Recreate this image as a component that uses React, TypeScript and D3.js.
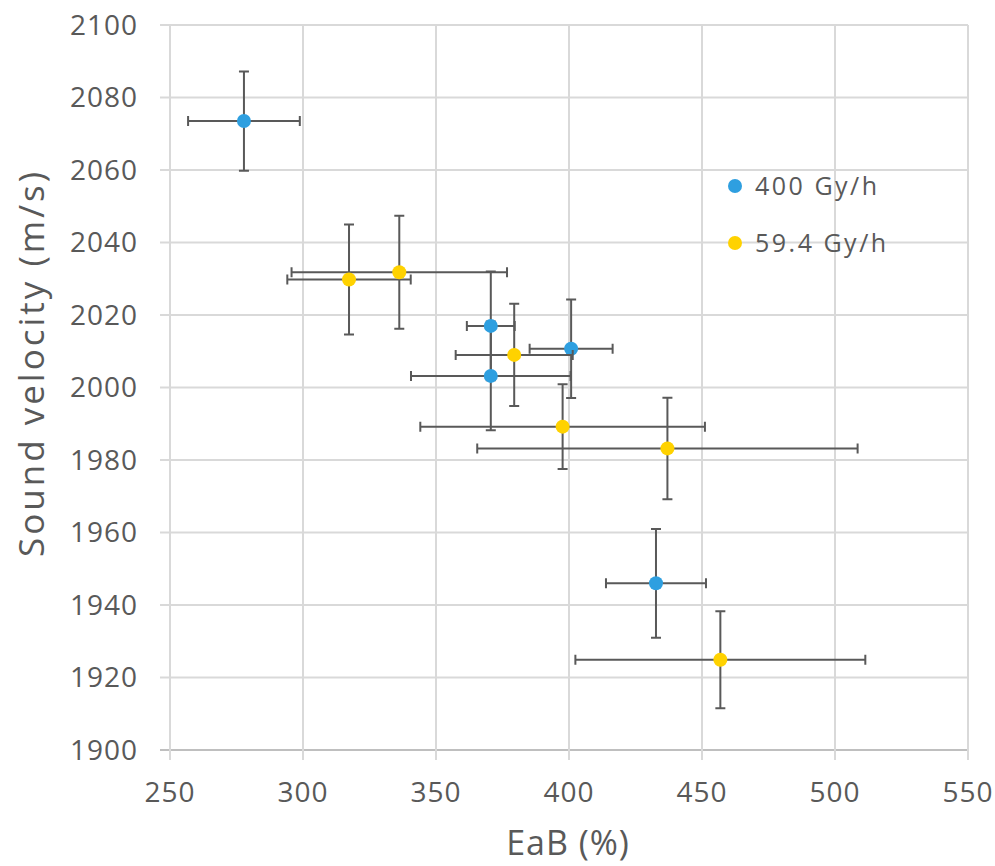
import React, { useEffect, useRef } from 'react';
import * as d3 from 'd3';

// 400 Gy/h series
const blueX = [277.8, 370.6, 370.6, 400.8, 432.7];
const blueY = [2073.5, 2017, 2003.2, 2010.7, 1946];
const blueXErr = [21, 9, 30, 15.6, 18.8];
const blueYErr = [13.7, 15, 15, 13.6, 15];

// 59.4 Gy/h series
const yellowX = [317.3, 336.2, 379.4, 397.6, 437, 456.9];
const yellowY = [2029.8, 2031.8, 2009, 1989.2, 1983.2, 1924.9];
const yellowXErr = [23.2, 40.5, 22, 53.5, 71.5, 54.5];
const yellowYErr = [15.2, 15.6, 14.1, 11.7, 14, 13.4];

const seriesNames = ['400 Gy/h', '59.4 Gy/h'];
const xTicks = [250, 300, 350, 400, 450, 500, 550];
const yTicks = [1900, 1920, 1940, 1960, 1980, 2000, 2020, 2040, 2060, 2080, 2100];

const App = () => {
    const svgRef = useRef<SVGSVGElement>(null);

    useEffect(() => {
        const width = 995;
        const height = 866;
        const left = 170, right = 968, top = 25, bottom = 750;
        const font = '"Open Sans", sans-serif';
        const textColor = '#595959';

        const svg = d3.select(svgRef.current)
            .attr('width', width)
            .attr('height', height);
        svg.selectAll('*').remove();

        const x = d3.scaleLinear().domain([250, 550]).range([left, right]);
        const y = d3.scaleLinear().domain([1900, 2100]).range([bottom, top]);

        // grid
        svg.append('g').selectAll('line')
            .data(yTicks)
            .enter()
            .append('line')
            .attr('x1', left - 10)
            .attr('x2', right)
            .attr('y1', d => y(d))
            .attr('y2', d => y(d))
            .attr('stroke', d => d === 1900 ? '#bfbfbf' : '#d9d9d9')
            .attr('stroke-width', 2);

        svg.append('g').selectAll('line')
            .data(xTicks)
            .enter()
            .append('line')
            .attr('x1', d => x(d))
            .attr('x2', d => x(d))
            .attr('y1', top)
            .attr('y2', bottom + 10)
            .attr('stroke', '#d9d9d9')
            .attr('stroke-width', 2);

        // tick labels
        svg.append('g').selectAll('text')
            .data(yTicks)
            .enter()
            .append('text')
            .attr('x', left - 32)
            .attr('y', d => y(d))
            .attr('dy', '0.35em')
            .attr('text-anchor', 'end')
            .style('font-family', font)
            .style('font-size', '28px')
            .style('letter-spacing', '1px')
            .style('fill', textColor)
            .text(d => d);

        svg.append('g').selectAll('text')
            .data(xTicks)
            .enter()
            .append('text')
            .attr('x', d => x(d))
            .attr('y', bottom + 52)
            .attr('text-anchor', 'middle')
            .style('font-family', font)
            .style('font-size', '28px')
            .style('letter-spacing', '1px')
            .style('fill', textColor)
            .text(d => d);

        // axis titles
        svg.append('text')
            .attr('x', 568)
            .attr('y', 855)
            .attr('text-anchor', 'middle')
            .style('font-family', font)
            .style('font-size', '34px')
            .style('letter-spacing', '1px')
            .style('fill', textColor)
            .text('EaB (%)');

        svg.append('text')
            .attr('transform', `translate(44,363) rotate(-90)`)
            .attr('text-anchor', 'middle')
            .style('font-family', font)
            .style('font-size', '35px')
            .style('letter-spacing', '3px')
            .style('fill', textColor)
            .text('Sound velocity (m/s)');

        const series = [
            { xs: blueX, ys: blueY, xe: blueXErr, ye: blueYErr, color: '#2e9fe0' },
            { xs: yellowX, ys: yellowY, xe: yellowXErr, ye: yellowYErr, color: '#ffd200' },
        ];

        const cap = 5;
        series.forEach(s => {
            const pts = s.xs.map((v, i) => ({ x: v, y: s.ys[i], xe: s.xe[i], ye: s.ye[i] }));
            const g = svg.append('g')
                .attr('stroke', '#595959')
                .attr('stroke-width', 2)
                .attr('fill', 'none');

            pts.forEach(p => {
                const cx = x(p.x), cy = y(p.y);
                const x0 = x(p.x - p.xe), x1 = x(p.x + p.xe);
                const y0 = y(p.y + p.ye), y1 = y(p.y - p.ye);
                g.append('path')
                    .attr('d', `M${x0},${cy}H${x1}M${x0},${cy - cap}V${cy + cap}M${x1},${cy - cap}V${cy + cap}`);
                g.append('path')
                    .attr('d', `M${cx},${y0}V${y1}M${cx - cap},${y0}H${cx + cap}M${cx - cap},${y1}H${cx + cap}`);
            });

            svg.append('g').selectAll('circle')
                .data(pts)
                .enter()
                .append('circle')
                .attr('cx', d => x(d.x))
                .attr('cy', d => y(d.y))
                .attr('r', 7)
                .attr('fill', s.color);
        });

        // legend
        const legend = svg.append('g').selectAll('g')
            .data(seriesNames)
            .enter()
            .append('g')
            .attr('transform', (d, i) => `translate(735,${186 + i * 57})`);

        legend.append('circle')
            .attr('r', 7)
            .attr('fill', (d, i) => series[i].color);

        legend.append('text')
            .attr('x', 20)
            .attr('dy', '0.35em')
            .style('font-family', font)
            .style('font-size', '25px')
            .style('letter-spacing', '2.5px')
            .style('fill', textColor)
            .text(d => d);
    }, []);

    return <svg ref={svgRef} style={{ position: 'absolute', left: 0, top: 0 }}></svg>;
};

export default App;
